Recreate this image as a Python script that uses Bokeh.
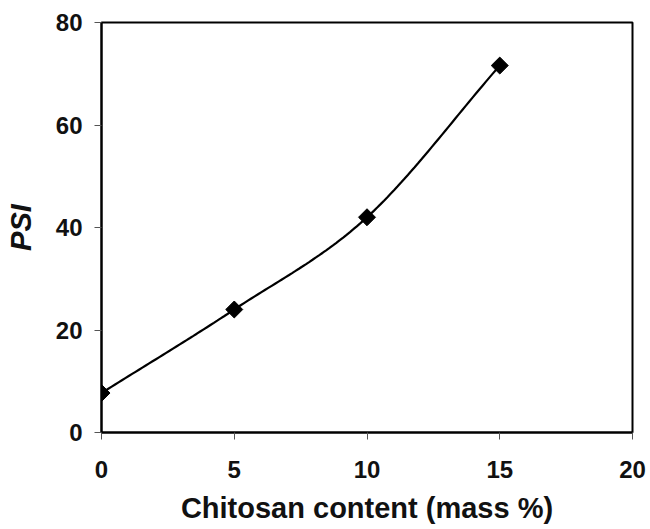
import numpy as np
from bokeh.plotting import figure
from bokeh.models import Range1d, FixedTicker
from bokeh.embed import file_html
from bokeh.resources import INLINE

chitosan = [0, 5, 10, 15]
psi = [7.7, 24.0, 42.0, 71.6]
x_ticks = [0, 5, 10, 15, 20]
y_ticks = [0, 20, 40, 60, 80]

def smooth(xs, ys, n=40, tension=0.5):
    xs = np.asarray(xs, float); ys = np.asarray(ys, float)
    px = np.concatenate([[2*xs[0]-xs[1]], xs, [2*xs[-1]-xs[-2]]])
    py = np.concatenate([[2*ys[0]-ys[1]], ys, [2*ys[-1]-ys[-2]]])
    ox, oy = [], []
    for i in range(1, len(px)-2):
        p0 = np.array([px[i-1], py[i-1]]); p1 = np.array([px[i], py[i]])
        p2 = np.array([px[i+1], py[i+1]]); p3 = np.array([px[i+2], py[i+2]])
        c1 = p1 + (p2 - p0) * tension / 3
        c2 = p2 - (p3 - p1) * tension / 3
        t = np.linspace(0, 1, n)[:, None]
        b = (1-t)**3*p1 + 3*(1-t)**2*t*c1 + 3*(1-t)*t**2*c2 + t**3*p2
        ox.extend(b[:, 0]); oy.extend(b[:, 1])
    return ox, oy

p = figure(width=650, height=529, output_backend="svg", toolbar_location=None,
           x_range=Range1d(0, 20), y_range=Range1d(0, 80),
           min_border_left=101, min_border_right=18, min_border_top=22, min_border_bottom=97)
p.grid.visible = False
p.outline_line_color = "black"
p.outline_line_width = 2

sx, sy = smooth(chitosan, psi)
p.line(sx, sy, line_color="black", line_width=2.2)
p.scatter(chitosan, psi, marker="square", angle=np.pi/4, size=12,
          fill_color="black", line_color="black")

for ax in (p.xaxis[0], p.yaxis[0]):
    ax.axis_line_width = 2
    ax.axis_line_color = "black"
    ax.major_tick_in = 0
    ax.major_tick_out = 7
    ax.major_tick_line_color = "#555555"
    ax.minor_tick_line_color = None
    ax.major_label_text_font = "Liberation Sans"
    ax.major_label_text_font_style = "bold"
    ax.major_label_text_font_size = "24px"
    ax.major_label_text_color = "#111111"
    ax.axis_label_text_font = "Liberation Sans"
    ax.axis_label_text_color = "#111111"
    ax.axis_label_text_font_size = "29px"

p.xaxis.ticker = FixedTicker(ticks=x_ticks)
p.yaxis.ticker = FixedTicker(ticks=y_ticks)
p.xaxis.major_label_standoff = 21
p.yaxis.major_label_standoff = 12
p.xaxis.axis_label = "Chitosan content (mass %)"
p.xaxis.axis_label_text_font_style = "bold"
p.xaxis.axis_label_standoff = 11
p.yaxis.axis_label = "PSI"
p.yaxis.axis_label_text_font_style = "bold italic"
p.yaxis.axis_label_standoff = 16

open("out.html", "w").write(file_html(p, INLINE))
